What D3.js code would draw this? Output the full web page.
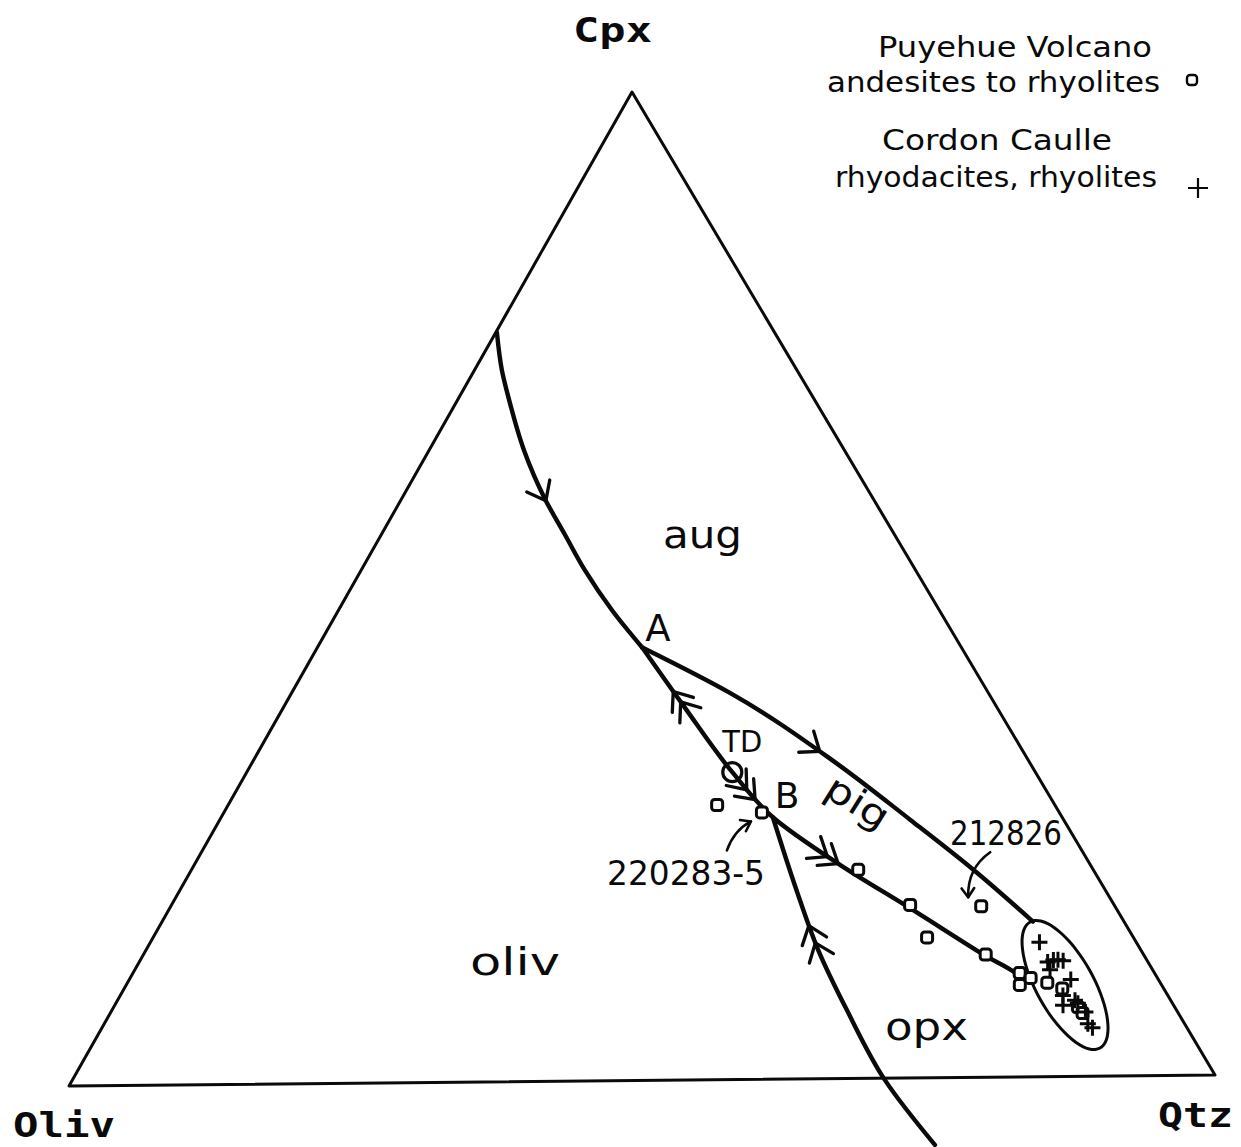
<!DOCTYPE html>
<html>
<head>
<meta charset="utf-8">
<script src="https://cdn.jsdelivr.net/npm/d3@7"></script>
<style>
  body { margin: 0; background: #fff; }
  svg { display: block; }
</style>
</head>
<body>
<svg id="chart" width="1241" height="1147"></svg>
<script>
// Compositions are [Cpx, Qtz] in percent; Oliv is the remainder to 100.
const vertexNames = ["Cpx", "Oliv", "Qtz"];

// Phase boundaries
const olivAugBoundary = [[75.8, 0.1], [72.0, 2.4], [69.0, 4.5], [63.9, 8.3], [58.8, 12.7], [55.3, 16.1], [51.7, 19.6], [47.6, 24.0], [43.8, 28.5]];
const olivPigOpxBoundary = [[43.8, 28.5], [37.7, 35.2], [31.1, 42.6], [26.5, 48.4], [21.6, 56.7], [17.2, 64.9], [12.4, 73.7], [10.1, 78.0], [9.8, 78.3]];
const augPigBoundary = [[43.8, 28.5], [39.1, 38.5], [32.2, 50.8], [26.1, 60.6], [21.0, 68.6], [15.7, 76.4]];
const olivOpxBoundary = [[26.5, 48.4], [19.1, 54.1], [13.0, 59.0], [6.9, 64.5], [-0.2, 71.3], [-6.8, 78.9]];

// Samples
const puyehueSamples = [[27.8, 42.9], [27.0, 47.2], [21.1, 58.5], [17.5, 64.8], [14.2, 67.9], [17.3, 71.1], [12.4, 73.9],
  [10.5, 77.8], [9.3, 78.4], [10.0, 79.0], [9.5, 80.7], [8.9, 82.3], [7.0, 84.6], [6.4, 85.3]];
const cordonCaulleSamples = [[13.6, 78.0], [11.6, 79.7], [11.8, 80.1], [11.8, 80.5], [11.7, 81.0], [10.8, 80.3], [9.8, 82.6],
  [8.2, 82.7], [7.2, 83.2], [7.7, 84.0], [7.4, 84.4], [6.5, 85.5], [5.3, 86.3], [4.9, 86.9]];
const tdPoint = [31.1, 42.6];
const pointA = [43.8, 28.5];
const pointB = [26.5, 48.4];

// Field enclosing the Cordon Caulle group: centre, end of long axis, end of short axis
const groupCentre = [9.25, 82.37];
const groupMajorEnd = [15.66, 76.17];
const groupMinorEnd = [10.64, 83.87];

// Labelled samples
const sampleLabels = [
  { text: "212826", sample: 5 },
  { text: "220283-5", sample: 1 }
];

const fieldLabels = ["aug", "pig", "oliv", "opx"];
const legendEntries = [
  { lines: ["Puyehue Volcano", "andesites to rhyolites"], symbol: "square" },
  { lines: ["Cordon Caulle", "rhyodacites, rhyolites"], symbol: "plus" }
];

// ---------- layout ----------
const svg = d3.select("#chart");
const V = { Cpx: [632, 92], Oliv: [69, 1086], Qtz: [1215, 1075] };
const frac = d3.scaleLinear().domain([0, 100]).range([0, 1]);

function proj(d) {
  const c = frac(d[0]), q = frac(d[1]), o = frac(100 - d[0] - d[1]);
  return [c * V.Cpx[0] + o * V.Oliv[0] + q * V.Qtz[0],
          c * V.Cpx[1] + o * V.Oliv[1] + q * V.Qtz[1]];
}

const ink = "#0a0a0a";

// Triangle
svg.append("path")
  .attr("d", d3.line()([V.Cpx, V.Qtz, V.Oliv]) + "Z")
  .attr("fill", "none").attr("stroke", ink).attr("stroke-width", 3)
  .attr("stroke-linejoin", "round");

// Boundaries (each runs downward on the page, so x is smoothed as a function of y)
const lineGen = d3.line().x(d => proj(d)[0]).y(d => proj(d)[1]).curve(d3.curveMonotoneY);
const boundaries = {
  olivAug: olivAugBoundary,
  lower: olivPigOpxBoundary,
  upper: augPigBoundary,
  olivOpx: olivOpxBoundary
};
const paths = {};
Object.entries(boundaries).forEach(([k, pts]) => {
  paths[k] = svg.append("path")
    .attr("d", lineGen(pts))
    .attr("fill", "none").attr("stroke", ink).attr("stroke-width", 4.4)
    .attr("stroke-linecap", "round");
});

// Direction of falling temperature along boundaries
const arrowMarks = [
  { line: "olivAug", at: [0.50], dir: 1 },
  { line: "lower", at: [0.105, 0.13], dir: -1 },
  { line: "lower", at: [0.345, 0.37], dir: 1 },
  { line: "lower", at: [0.55, 0.575], dir: 1 },
  { line: "upper", at: [0.43], dir: 1 },
  { line: "olivOpx", at: [0.31, 0.36], dir: -1 }
];

function chevron(node, f, dir, len, half) {
  const L = node.getTotalLength();
  const s = f * L;
  const p = node.getPointAtLength(s);
  const p2 = node.getPointAtLength(Math.max(0, Math.min(L, s + dir * 2)));
  let tx = p2.x - p.x, ty = p2.y - p.y;
  const n = Math.hypot(tx, ty) || 1; tx /= n; ty /= n;
  const a = half * Math.PI / 180;
  const bx = -tx, by = -ty;
  const r1 = [bx * Math.cos(a) - by * Math.sin(a), bx * Math.sin(a) + by * Math.cos(a)];
  const r2 = [bx * Math.cos(-a) - by * Math.sin(-a), bx * Math.sin(-a) + by * Math.cos(-a)];
  return `M${p.x + r1[0] * len},${p.y + r1[1] * len}L${p.x},${p.y}L${p.x + r2[0] * len},${p.y + r2[1] * len}`;
}

arrowMarks.forEach(m => {
  const node = paths[m.line].node();
  m.at.forEach(f => {
    svg.append("path")
      .attr("d", chevron(node, f, m.dir, 21, 38))
      .attr("fill", "none").attr("stroke", ink).attr("stroke-width", 3.3)
      .attr("stroke-linecap", "round").attr("stroke-linejoin", "round");
  });
});

// Cordon Caulle field outline
{
  const c = proj(groupCentre), a = proj(groupMajorEnd), b = proj(groupMinorEnd);
  const ax = [a[0] - c[0], a[1] - c[1]], bx = [b[0] - c[0], b[1] - c[1]];
  const pts = d3.range(0, 360, 10).map(t => {
    const r = t * Math.PI / 180;
    return [c[0] + Math.cos(r) * ax[0] + Math.sin(r) * bx[0], c[1] + Math.cos(r) * ax[1] + Math.sin(r) * bx[1]];
  });
  svg.append("path")
    .attr("d", d3.line().curve(d3.curveCardinalClosed)(pts))
    .attr("fill", "none").attr("stroke", ink).attr("stroke-width", 3);
}

// Samples
const sq = 11;
svg.append("g").selectAll("rect").data(puyehueSamples).join("rect")
  .attr("x", d => proj(d)[0] - sq / 2).attr("y", d => proj(d)[1] - sq / 2)
  .attr("width", sq).attr("height", sq).attr("rx", 3)
  .attr("fill", "#fff").attr("stroke", ink).attr("stroke-width", 3);

const cr = 8;
svg.append("g").selectAll("path").data(cordonCaulleSamples).join("path")
  .attr("d", d => { const [x, y] = proj(d); return `M${x - cr},${y}H${x + cr}M${x},${y - cr}V${y + cr}`; })
  .attr("stroke", ink).attr("stroke-width", 3);

// TD
{
  const [x, y] = proj(tdPoint);
  svg.append("circle").attr("cx", x).attr("cy", y).attr("r", 9.5)
    .attr("fill", "none").attr("stroke", ink).attr("stroke-width", 3.2);
  svg.append("text").attr("x", x - 10).attr("y", y - 20).text("TD")
    .attr("font-family", "DejaVu Sans").attr("font-size", 30)
    .attr("textLength", 40).attr("lengthAdjust", "spacingAndGlyphs").attr("fill", ink);
}

// Invariant points
{
  const [ax, ay] = proj(pointA);
  svg.append("text").attr("x", ax + 3).attr("y", ay - 6).text("A")
    .attr("font-family", "DejaVu Sans").attr("font-size", 37).attr("fill", ink);
  const [bx, by] = proj(pointB);
  svg.append("text").attr("x", bx + 2).attr("y", by - 9).text("B")
    .attr("font-family", "DejaVu Sans").attr("font-size", 36).attr("fill", ink);
}

// Sample labels with leader arrows
const leaderSpecs = {
  "212826": { label: [950, 845, 112], start: [9, -54], ctrl: [-14, -38], tip: [-13, -9] },
  "220283-5": { label: [607, 885, 158], start: [-35, 38], ctrl: [-28, 18], tip: [-11, 9] }
};
sampleLabels.forEach(s => {
  const spec = leaderSpecs[s.text];
  const [px, py] = proj(puyehueSamples[s.sample]);
  svg.append("text").attr("x", spec.label[0]).attr("y", spec.label[1]).text(s.text)
    .attr("font-family", "DejaVu Sans").attr("font-size", 33)
    .attr("textLength", spec.label[2]).attr("lengthAdjust", "spacingAndGlyphs").attr("fill", ink);
  const st = [px + spec.start[0], py + spec.start[1]];
  const ct = [px + spec.ctrl[0], py + spec.ctrl[1]];
  const tp = [px + spec.tip[0], py + spec.tip[1]];
  svg.append("path").attr("d", `M${st}Q${ct} ${tp}`)
    .attr("fill", "none").attr("stroke", ink).attr("stroke-width", 2.6).attr("stroke-linecap", "round");
  let dx = tp[0] - ct[0], dy = tp[1] - ct[1];
  const n = Math.hypot(dx, dy); dx /= n; dy /= n;
  const a = 35 * Math.PI / 180, len = 11;
  const b1 = [-dx * Math.cos(a) + dy * Math.sin(a), -dx * Math.sin(a) - dy * Math.cos(a)];
  const b2 = [-dx * Math.cos(a) - dy * Math.sin(a), dx * Math.sin(a) - dy * Math.cos(a)];
  svg.append("path")
    .attr("d", `M${tp[0] + b1[0] * len},${tp[1] + b1[1] * len}L${tp}L${tp[0] + b2[0] * len},${tp[1] + b2[1] * len}`)
    .attr("fill", "none").attr("stroke", ink).attr("stroke-width", 2.6)
    .attr("stroke-linecap", "round").attr("stroke-linejoin", "round");
});

// Field names
const fieldPos = {
  aug: { x: 663, y: 548, w: 79, rot: 0 },
  oliv: { x: 470, y: 975, w: 90, rot: 0 },
  opx: { x: 885, y: 1040, w: 83, rot: 0 },
  pig: { x: 822, y: 795, w: 68, rot: 32 }
};
fieldLabels.forEach(name => {
  const p = fieldPos[name];
  svg.append("text").text(name)
    .attr("transform", `translate(${p.x},${p.y}) rotate(${p.rot})`)
    .attr("font-family", "DejaVu Sans").attr("font-size", 37)
    .attr("textLength", p.w).attr("lengthAdjust", "spacingAndGlyphs").attr("fill", ink);
});

// Corner labels
const cornerPos = {
  Cpx: { x: 573, y: 42, w: 79 },
  Oliv: { x: 13, y: 1137, w: 102 },
  Qtz: { x: 1158, y: 1127, w: 75 }
};
vertexNames.forEach(n => {
  const p = cornerPos[n];
  svg.append("text").text(n).attr("x", p.x).attr("y", p.y)
    .attr("font-family", "DejaVu Sans Mono").attr("font-weight", "bold").attr("font-size", 33)
    .attr("textLength", p.w).attr("lengthAdjust", "spacingAndGlyphs").attr("fill", ink);
});

// Legend
const legendLayout = [
  { lines: [[878, 57, 274], [827, 92, 333]], sym: [1192, 80] },
  { lines: [[882, 150, 230], [835, 187, 322]], sym: [1198, 188] }
];
legendEntries.forEach((e, i) => {
  const lay = legendLayout[i];
  e.lines.forEach((t, j) => {
    const [x, y, w] = lay.lines[j];
    svg.append("text").text(t).attr("x", x).attr("y", y)
      .attr("font-family", "DejaVu Sans").attr("font-size", 28)
      .attr("textLength", w).attr("lengthAdjust", "spacingAndGlyphs").attr("fill", ink);
  });
  const [sx, sy] = lay.sym;
  if (e.symbol === "square") {
    svg.append("rect").attr("x", sx - 5).attr("y", sy - 5).attr("width", 10).attr("height", 10).attr("rx", 3)
      .attr("fill", "none").attr("stroke", ink).attr("stroke-width", 2.4);
  } else {
    svg.append("path").attr("d", `M${sx - 10},${sy}H${sx + 10}M${sx},${sy - 10}V${sy + 10}`)
      .attr("stroke", ink).attr("stroke-width", 2.2);
  }
});
</script>
</body>
</html>
